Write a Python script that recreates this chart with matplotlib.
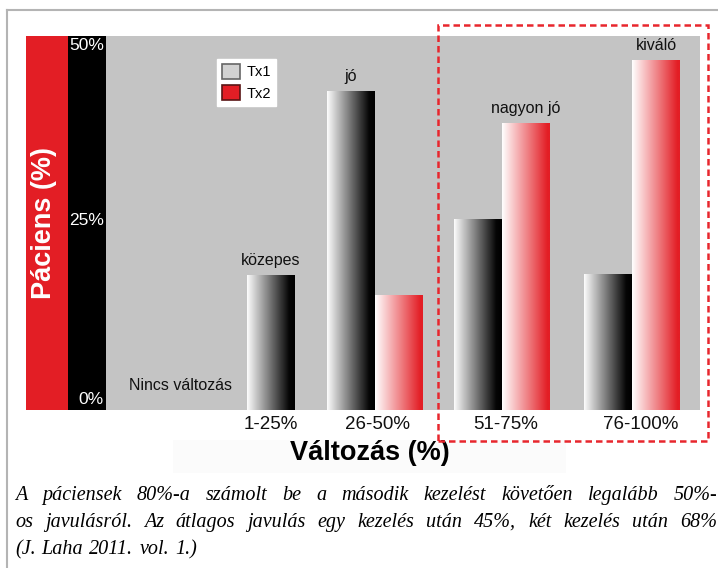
import numpy as np
import matplotlib
matplotlib.use("Agg")
import matplotlib.pyplot as plt
from matplotlib.colors import LinearSegmentedColormap
from matplotlib.patches import Rectangle, Patch
from matplotlib.lines import Line2D

# ---------------- data ----------------
categories = ["Nincs változás", "1-25%", "26-50%", "51-75%", "76-100%"]
tx1 = [0, 19.3, 45.6, 27.3, 19.4]
tx2 = [0, 0, 16.4, 41.0, 50.0]
quality = ["", "közepes", "jó", "nagyon jó", "kiváló"]
series_names = ["Tx1", "Tx2"]
ytick_vals = [0, 25, 50]
ytick_labels = ["0%", "25%", "50%"]
xlabel = "Változás (%)"
ylabel = "Páciens (%)"
caption_lines = [
    "A páciensek 80%-a számolt be a második kezelést követően legalább 50%-",
    "os javulásról. Az átlagos javulás egy kezelés után 45%, két kezelés után 68%",
    "(J. Laha 2011. vol. 1.)",
]

# ---------------- layout ----------------
W, H = 718, 568
group_pos = [1.5, 3.94, 5.6, 8.25, 10.96]   # pair centres (bar width = 1)
label_shift = [0.0, -0.5, 0.05, 0.07, 0.17]
SANS = "Liberation Sans"
SERIF = "Liberation Serif"
RED = "#e31e25"

def fx(px):
    return px / W

def fy(py):
    return 1 - py / H

fig = plt.figure(figsize=(W / 100, H / 100), dpi=100)
fig.patch.set_facecolor("white")

ax_l, ax_r, ax_t, ax_b = 106, 700, 36, 410
ax = fig.add_axes([fx(ax_l), fy(ax_b), (ax_r - ax_l) / W, (ax_b - ax_t) / H])
ax.set_facecolor("#c4c4c4")
for s in ax.spines.values():
    s.set_visible(False)

# side bands (behind the axes so that the tick labels sit on top)
fig.add_artist(Rectangle((fx(26), fy(ax_b)), fx(68) - fx(26), (ax_b - ax_t) / H,
                         transform=fig.transFigure, facecolor=RED, edgecolor="none", zorder=-2))
fig.add_artist(Rectangle((fx(68), fy(ax_b)), fx(106) - fx(68), (ax_b - ax_t) / H,
                         transform=fig.transFigure, facecolor="black", edgecolor="none", zorder=-2))

# frame lines
fig.add_artist(Line2D([fx(7), 1.0], [fy(10), fy(10)], transform=fig.transFigure,
                      color="#b4b4b4", lw=1.5))
fig.add_artist(Line2D([fx(7), fx(7)], [fy(10), 0.0], transform=fig.transFigure,
                      color="#b4b4b4", lw=1.5))

cmap1 = LinearSegmentedColormap.from_list("g1", [(0, "#fdfdfd"), (0.88, "#060606"), (1, "#000000")])
cmap2 = LinearSegmentedColormap.from_list("g2", [(0, "#ffffff"), (0.95, RED), (1, RED)])
grad = np.linspace(0, 1, 256).reshape(1, -1)

for i, cat in enumerate(categories):
    for j, (vals, cmap) in enumerate([(tx1, cmap1), (tx2, cmap2)]):
        h = vals[i]
        if h <= 0:
            continue
        xc = group_pos[i] - 0.5 + j
        bar = ax.bar(xc, h, width=1.0, color="none", edgecolor="none")[0]
        im = ax.imshow(grad, cmap=cmap, aspect="auto",
                       extent=(xc - 0.5, xc + 0.5, 0, h), zorder=2)
        im.set_clip_path(bar)
    top = max(tx1[i], tx2[i])
    if quality[i]:
        xq = group_pos[i] - 0.5 + (0 if tx1[i] >= tx2[i] else 1)
        ax.annotate(quality[i], (xq, top), xytext=(0, 10.5), textcoords="offset points",
                    ha="center", va="center", fontsize=11.5, family=SANS, color="#111111")

ax.set_xlim(0, (ax_r - ax_l) / 48)
ax.set_ylim(0, (ax_b - ax_t) / 7)

# x ticks
xt = [group_pos[i] + label_shift[i] for i in range(1, len(categories))]
ax.set_xticks(xt)
ax.set_xticklabels(categories[1:], fontsize=13.5, family=SANS, color="#111111")
ax.tick_params(axis="x", length=0, pad=4)
ax.set_yticks([])
# "no change" category written inside the plot
ax.annotate(categories[0], (group_pos[0] + 0.05, 0), xytext=(0, 18), textcoords="offset points",
            ha="center", va="center", fontsize=11.5, family=SANS, color="#111111")

# y tick labels in the black band
for v, lab in zip(ytick_vals, ytick_labels):
    ax.annotate(lab, (0, v), xycoords=("axes fraction", "data"),
                xytext=(-1.5, 2.5 if v == 0 else 5), textcoords="offset points",
                ha="right", va="bottom", fontsize=12.5, family=SANS, color="white",
                annotation_clip=False)

# legend
handles = [Patch(facecolor="#d2d2d2", edgecolor="#666666", lw=1.2),
           Patch(facecolor=RED, edgecolor="#5a1515", lw=1.2)]
leg = fig.legend(handles, series_names, loc="upper left",
                 bbox_to_anchor=(fx(217), fy(59)), bbox_transform=fig.transFigure,
                 prop={"family": SANS, "size": 10.5}, frameon=True, fancybox=False,
                 framealpha=1, facecolor="white", edgecolor="white",
                 handlelength=1.2, handleheight=1.2, labelspacing=0.4,
                 handletextpad=0.45, borderpad=0.35, borderaxespad=0)

# axis labels
fig.add_artist(Rectangle((fx(173), fy(473)), fx(566) - fx(173), (473 - 440) / H,
                         transform=fig.transFigure, facecolor="#fbfbfb", edgecolor="none", zorder=-2))
fig.text(fx(370), fy(453), xlabel, ha="center", va="center", fontsize=19.5,
         fontweight="bold", family=SANS, color="black")
fig.text(fx(44), fy(223), ylabel, ha="center", va="center", rotation=90, fontsize=19.5,
         fontweight="bold", family=SANS, color="white")

# dashed highlight box
fig.add_artist(Rectangle((fx(438), fy(441)), fx(708) - fx(438), (441 - 25) / H,
                         transform=fig.transFigure, facecolor="none", edgecolor="#e8262d",
                         lw=1.8, linestyle=(0, (2.6, 1.6)), zorder=5))

# justified caption
renderer = fig.canvas.get_renderer()
baselines = [500, 527, 554]
left_px, right_px = 15, 717
for k, line in enumerate(caption_lines):
    words = line.split(" ")
    texts = [fig.text(0, 0, w, fontsize=14.5, family=SERIF, style="italic",
                      va="baseline", ha="left", color="black") for w in words]
    widths = [t.get_window_extent(renderer).width for t in texts]
    if k < len(caption_lines) - 1:
        gap = (right_px - left_px - sum(widths)) / (len(words) - 1)
    else:
        gap = 6
    x = left_px
    for t, w in zip(texts, widths):
        t.set_position((fx(x), fy(baselines[k])))
        x += w + gap

fig.savefig("out.png", dpi=100, facecolor="white")
